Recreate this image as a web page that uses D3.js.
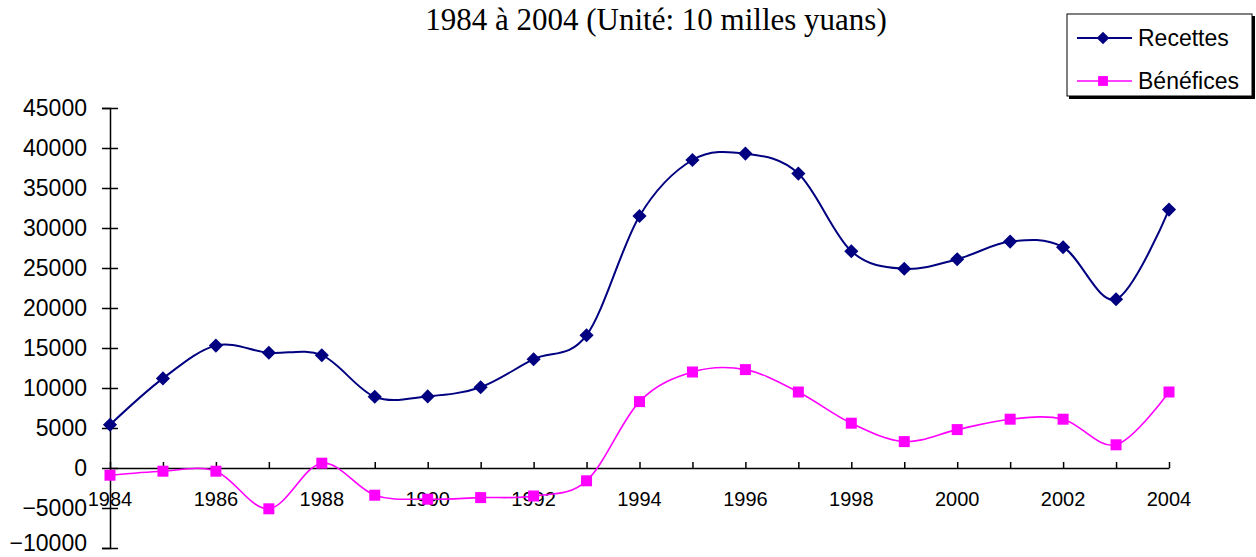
<!DOCTYPE html>
<head>
  <meta charset="utf-8">
  <script src="https://d3js.org/d3.v7.min.js"></script>
  <style>
    body { margin:0; background:white; }
    svg { display:block; }
    .title { font-family: "Liberation Serif", "Times New Roman", serif; font-size: 31px; }
    .lbl { font-family: "Liberation Sans", Arial, sans-serif; fill: black; }
  </style>
</head>
<body>
<script>
  var years = d3.range(1984, 2005);
  var recettes = [5400, 11200, 15300, 14400, 14100, 8900, 8950, 10100, 13600, 16600,
                  31500, 38500, 39300, 36800, 27100, 24900, 26100, 28300, 27600, 21100, 32300];
  var benefices = [-900, -400, -400, -5100, 600, -3400, -3900, -3700, -3500, -1600,
                   8300, 12000, 12300, 9500, 5600, 3300, 4800, 6100, 6100, 2900, 9500];
  var yTicks = d3.range(-10000, 45001, 5000);
  var xLabels = d3.range(1984, 2005, 2);

  var width = 1256, height = 557;
  var svg = d3.select("body").append("svg").attr("width", width).attr("height", height);

  var x = d3.scaleLinear().domain([1984, 2004]).range([110, 1169]);
  var y = d3.scaleLinear().domain([-10000, 45000]).range([548, 108]);

  svg.append("text").attr("class", "title")
    .attr("x", 656).attr("y", 30).attr("text-anchor", "middle")
    .text("1984 à 2004 (Unité: 10 milles yuans)");

  // y axis
  var ya = svg.append("g").attr("transform", "translate(110,0)")
    .call(d3.axisLeft(y).tickValues(yTicks).tickSize(8).tickPadding(15).tickFormat(d3.format("d")));
  ya.select(".domain").attr("stroke-width", 1.5);
  ya.selectAll(".tick line").attr("x2", 8).attr("x1", -8).attr("stroke-width", 1.5);
  ya.selectAll("text").attr("class", "lbl").style("font-size", "23px")
    .attr("dy", function(d) { return d === -10000 ? "0.12em" : "0.32em"; });

  // x axis at zero
  var xa = svg.append("g").attr("transform", "translate(0," + y(0) + ")")
    .call(d3.axisBottom(x).tickValues(years).tickSize(-6).tickSizeOuter(0).tickFormat(""));
  xa.select(".domain").attr("stroke-width", 1.5);
  xa.selectAll(".tick line").attr("stroke-width", 1.5);
  xa.selectAll(".xl").data(xLabels).enter().append("text")
    .attr("class", "lbl").style("font-size", "20px")
    .attr("x", function(d) { return x(d); }).attr("y", 38)
    .attr("text-anchor", "middle").text(function(d) { return d; });

  var line = d3.line().curve(d3.curveCardinal.tension(0))
    .x(function(d, i) { return x(years[i]); })
    .y(function(d) { return y(d); });

  var series = [
    { name: "Recettes", values: recettes, color: "#000080", sym: d3.symbolSquare, size: 100, rot: 45, w: 2 },
    { name: "Bénéfices", values: benefices, color: "#FF00FF", sym: d3.symbolSquare, size: 121, rot: 0, w: 1.6 }
  ];

  series.forEach(function(s) {
    svg.append("path").datum(s.values)
      .attr("fill", "none").attr("stroke", s.color).attr("stroke-width", s.w)
      .attr("d", line);
    svg.selectAll(null).data(s.values).enter().append("path")
      .attr("d", d3.symbol().type(s.sym).size(s.size))
      .attr("fill", s.color)
      .attr("transform", function(d, i) {
        return "translate(" + x(years[i]) + "," + y(d) + ") rotate(" + s.rot + ")";
      });
  });

  // legend
  var lg = svg.append("g");
  lg.append("rect").attr("x", 1069).attr("y", 16).attr("width", 186).attr("height", 83).attr("fill", "black");
  lg.append("rect").attr("x", 1067).attr("y", 14).attr("width", 185).attr("height", 82)
    .attr("fill", "white").attr("stroke", "black").attr("stroke-width", 1);
  series.forEach(function(s, i) {
    var cy = 38 + i * 43;
    lg.append("line").attr("x1", 1077).attr("x2", 1132).attr("y1", cy).attr("y2", cy)
      .attr("stroke", s.color).attr("stroke-width", s.w);
    lg.append("path").attr("d", d3.symbol().type(s.sym).size(s.size * 0.8))
      .attr("fill", s.color)
      .attr("transform", "translate(1103," + cy + ") rotate(" + s.rot + ")");
    lg.append("text").attr("class", "lbl").style("font-size", "23px")
      .attr("x", 1138).attr("y", cy).attr("dy", "0.36em").text(s.name);
  });
</script>
</body>
